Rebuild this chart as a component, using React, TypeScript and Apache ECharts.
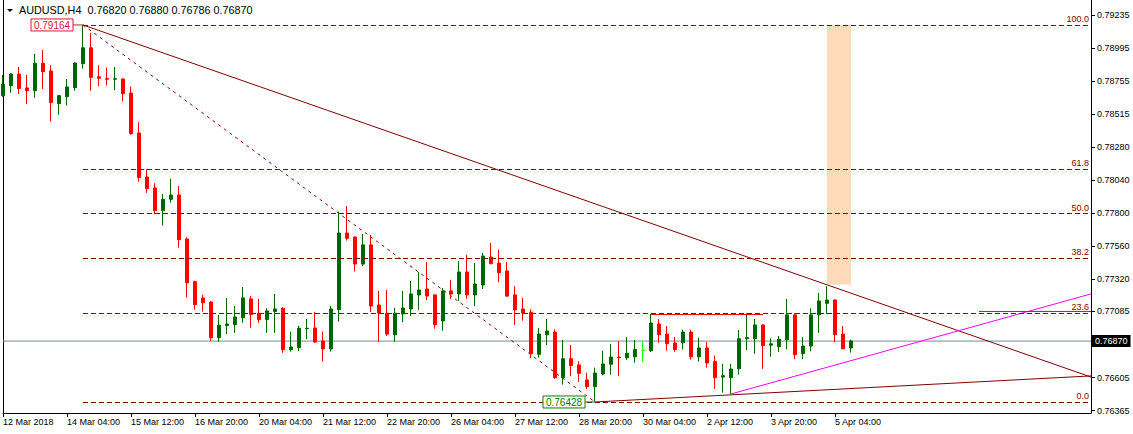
import React, { useEffect, useRef } from "react";
import * as echarts from "echarts";

const FONT = "'Liberation Sans', Arial, sans-serif";

// x-axis tick labels, one every 8 H4 bars
const TICK_LABELS = [
  "12 Mar 2018", "14 Mar 04:00", "15 Mar 12:00", "16 Mar 20:00", "20 Mar 04:00",
  "21 Mar 12:00", "22 Mar 20:00", "26 Mar 04:00", "27 Mar 12:00", "28 Mar 20:00",
  "30 Mar 04:00", "2 Apr 12:00", "3 Apr 20:00", "5 Apr 04:00",
];
// right price-axis labels
const Y_TICKS = [0.79235, 0.78995, 0.78755, 0.78515, 0.7828, 0.7804, 0.778, 0.7756, 0.7732, 0.77085, 0.76605, 0.76365];
const Y_MIN = 0.76348;
const Y_MAX = 0.79345;
const TOTAL_SLOTS = 137; // bars incl. empty space on the right

// H4 candles AUDUSD, 12 Mar 20:00 .. 5 Apr 12:00
const OPENS = [
  0.78651, 0.78724, 0.78808, 0.78707, 0.78687, 0.78886, 0.7883, 0.78593, 0.78643, 0.78709,
  0.78883, 0.78998, 0.78788, 0.78774, 0.7877, 0.78772, 0.7867, 0.7838, 0.78061, 0.77981,
  0.77816, 0.77899, 0.7793, 0.77611, 0.77301, 0.77183, 0.77153, 0.76894, 0.76982, 0.76989,
  0.7704, 0.77176, 0.77071, 0.77026, 0.77084, 0.77108, 0.76808, 0.76822, 0.7696, 0.76965,
  0.7687, 0.76813, 0.77098, 0.77654, 0.77625, 0.77429, 0.77568, 0.77132, 0.77072, 0.76916,
  0.77067, 0.77103, 0.77205, 0.77248, 0.77205, 0.77016, 0.77234, 0.77212, 0.77371, 0.77205,
  0.77277, 0.7748, 0.77436, 0.77379, 0.77205, 0.77103, 0.77079, 0.76774, 0.76916, 0.76935,
  0.76604, 0.76742, 0.76697, 0.76588, 0.76539, 0.76631, 0.76702, 0.76754, 0.76749, 0.76756,
  0.76803, 0.768, 0.76994, 0.76921, 0.76856, 0.76858, 0.76935, 0.76756, 0.7682, 0.76721,
  0.76609, 0.76604, 0.76669, 0.76887, 0.76887, 0.76987, 0.7684, 0.76829, 0.7688, 0.7706,
  0.76778, 0.76834, 0.7706, 0.77144, 0.77168, 0.76921, 0.7682,
];
const CLOSES = [
  0.78734, 0.78808, 0.78702, 0.78687, 0.78886, 0.78825, 0.786, 0.78651, 0.78714, 0.78888,
  0.78998, 0.78784, 0.78777, 0.7877, 0.78774, 0.78665, 0.78375, 0.78056, 0.77976, 0.77816,
  0.77899, 0.7793, 0.77606, 0.77293, 0.77134, 0.77148, 0.76894, 0.76985, 0.76994, 0.77045,
  0.77183, 0.77062, 0.77026, 0.77089, 0.77103, 0.76808, 0.76827, 0.76963, 0.76963, 0.76863,
  0.76813, 0.77103, 0.77654, 0.77616, 0.77429, 0.77568, 0.77124, 0.77074, 0.76921, 0.77072,
  0.7711, 0.77212, 0.77241, 0.77197, 0.76989, 0.77234, 0.77212, 0.77371, 0.77205, 0.77284,
  0.77487, 0.77431, 0.77366, 0.77197, 0.77096, 0.77074, 0.76778, 0.76921, 0.76943, 0.76604,
  0.76742, 0.76692, 0.76636, 0.76539, 0.76638, 0.76704, 0.76754, 0.76749, 0.76781, 0.76808,
  0.76803, 0.77001, 0.76916, 0.76851, 0.76808, 0.76935, 0.76756, 0.7682, 0.76711, 0.76604,
  0.76619, 0.76667, 0.76887, 0.76895, 0.76987, 0.76837, 0.7685, 0.76883, 0.7706, 0.76771,
  0.76834, 0.7706, 0.77161, 0.77168, 0.76916, 0.76814, 0.7687,
];
const LOWS = [
  0.78643, 0.78672, 0.78663, 0.78591, 0.78636, 0.787, 0.78462, 0.78513, 0.78579, 0.78687,
  0.78847, 0.78687, 0.78719, 0.78724, 0.78692, 0.78608, 0.78368, 0.78027, 0.77946, 0.7779,
  0.77708, 0.77874, 0.77548, 0.77185, 0.77098, 0.77084, 0.7687, 0.76865, 0.76921, 0.7693,
  0.77003, 0.76967, 0.77003, 0.7693, 0.7693, 0.76785, 0.76793, 0.76798, 0.76885, 0.76858,
  0.76721, 0.76793, 0.77011, 0.77599, 0.77374, 0.77414, 0.77081, 0.76865, 0.76906, 0.76865,
  0.77008, 0.77052, 0.77096, 0.77168, 0.7696, 0.76945, 0.77176, 0.77161, 0.77176, 0.77124,
  0.77248, 0.77428, 0.77298, 0.7719, 0.76987, 0.77018, 0.76747, 0.7675, 0.7684, 0.76597,
  0.76554, 0.76616, 0.76573, 0.76521, 0.76428, 0.76621, 0.76626, 0.76616, 0.76733, 0.76713,
  0.76721, 0.7679, 0.76858, 0.768, 0.76793, 0.76808, 0.76735, 0.76721, 0.76677, 0.76523,
  0.76496, 0.76486, 0.76626, 0.76805, 0.76778, 0.76669, 0.76756, 0.7679, 0.7681, 0.76738,
  0.76738, 0.76796, 0.7693, 0.77067, 0.76861, 0.76812, 0.76786,
];
const HIGHS = [
  0.78801, 0.78813, 0.78859, 0.78801, 0.78954, 0.78983, 0.78872, 0.78656, 0.78772, 0.78893,
  0.79164, 0.79104, 0.78872, 0.78854, 0.78859, 0.78775, 0.78716, 0.78459, 0.78117, 0.78015,
  0.77937, 0.78047, 0.77995, 0.77623, 0.77308, 0.77205, 0.7716, 0.7706, 0.77183, 0.77124,
  0.77262, 0.77197, 0.77176, 0.77108, 0.77212, 0.77117, 0.76938, 0.76979, 0.77031, 0.77081,
  0.76938, 0.77124, 0.77809, 0.7785, 0.77628, 0.77647, 0.7764, 0.77234, 0.77241, 0.7711,
  0.77234, 0.77306, 0.77371, 0.77443, 0.77208, 0.77255, 0.77313, 0.77451, 0.77495, 0.77436,
  0.77509, 0.77582, 0.77533, 0.77443, 0.77269, 0.77183, 0.77101, 0.76965, 0.77031, 0.76955,
  0.76878, 0.76842, 0.76724, 0.7664, 0.76677, 0.768, 0.76849, 0.7687, 0.76898, 0.76878,
  0.76868, 0.77067, 0.77031, 0.76979, 0.769, 0.76952, 0.76952, 0.76895, 0.76863, 0.76764,
  0.76704, 0.76704, 0.7695, 0.77072, 0.77031, 0.7699, 0.7689, 0.76907, 0.77176, 0.77072,
  0.76898, 0.77108, 0.77219, 0.77269, 0.77172, 0.76979, 0.7688,
];
const LIME_DOJI_INDEX = 80;

// Fibonacci retracement (high bar 10 -> low bar 74)
const FIB_HIGH_IDX = 10;
const FIB_HIGH = 0.79164;
const FIB_LOW_IDX = 74;
const FIB_LOW = 0.76428;
const FIB_LEVELS = [0, 23.6, 38.2, 50, 61.8, 100];

// drawn objects: [startIdx, startPrice, endIdx, endPrice]
const TREND_DOWN = [10, 0.79164, 136, 0.76609];
const TREND_UP = [74, 0.76428, 136, 0.76617];
const MAGENTA_LINE = [91, 0.76486, 136, 0.77212];
const RED_SEGMENTS = [
  [81, 0.77063, 95, 0.77063],
  [122, 0.77085, 136, 0.77085],
];
const PEACH_BOX = [103, 0.79164, 106, 0.7728];
const LAST_PRICE = 0.7687;
const TITLE = "AUDUSD,H4  0.76820 0.76880 0.76786 0.76870";

const MONTHS = ["Jan", "Feb", "Mar", "Apr", "May", "Jun", "Jul", "Aug", "Sep", "Oct", "Nov", "Dec"];

function buildCategories(n: number): string[] {
  const out: string[] = [];
  let t = Date.UTC(2018, 2, 12, 20);
  while (out.length < n) {
    const d = new Date(t);
    const wd = d.getUTCDay();
    if (wd !== 0 && wd !== 6) {
      const hh = String(d.getUTCHours()).padStart(2, "0");
      out.push(`${d.getUTCDate()} ${MONTHS[d.getUTCMonth()]} ${hh}:00`);
    }
    t += 4 * 3600 * 1000;
  }
  return out;
}

const tickShown = (index: number) => index % 8 === 0 && index / 8 < TICK_LABELS.length;

function segSeries(seg: number[], color: string, z: number, type: any = "solid") {
  return {
    type: "line",
    data: [
      [seg[0], seg[1]],
      [seg[2], seg[3]],
    ],
    symbol: "none",
    silent: true,
    z,
    lineStyle: { color, width: 1, type },
  };
}

function priceTag(idx: number, price: number, color: string) {
  return {
    type: "custom",
    z: 6,
    silent: true,
    clip: false,
    data: [[idx, price]],
    renderItem: (params: any, api: any) => {
      const p = api.coord([api.value(0), api.value(1)]);
      const boxW = 42;
      const boxH = 12;
      const gap = 10;
      const x1 = p[0] - gap;
      return {
        type: "group",
        children: [
          { type: "line", shape: { x1, y1: p[1], x2: p[0], y2: p[1] }, style: { stroke: color, lineWidth: 1 } },
          {
            type: "rect",
            shape: { x: x1 - boxW, y: p[1] - boxH / 2, width: boxW, height: boxH },
            style: { fill: "#ffffff", stroke: color, lineWidth: 1 },
          },
          {
            type: "text",
            style: {
              text: Number(api.value(1)).toFixed(5),
              x: x1 - boxW / 2,
              y: p[1] + 0.5,
              align: "center",
              verticalAlign: "middle",
              fill: color,
              font: `10px ${FONT}`,
            },
          },
        ],
      };
    },
  };
}

export default function App() {
  const ref = useRef<HTMLDivElement>(null);

  useEffect(() => {
    if (!ref.current) return;
    const chart = echarts.init(ref.current, null, { renderer: "svg" });
    const categories = buildCategories(TOTAL_SLOTS);
    const lastIdx = TOTAL_SLOTS - 1;

    const candleData = OPENS.map((o, i) => {
      const v = [o, CLOSES[i], LOWS[i], HIGHS[i]];
      if (i === LIME_DOJI_INDEX) {
        return {
          value: v,
          itemStyle: {
            color: "#00ff00",
            color0: "#00ff00",
            borderColor: "#00ff00",
            borderColor0: "#00ff00",
            borderColorDoji: "#00ff00",
          },
        };
      }
      return v;
    });

    const fibMarks = FIB_LEVELS.map((lv) => {
      const price = FIB_LOW + ((FIB_HIGH - FIB_LOW) * lv) / 100;
      return [
        {
          coord: [FIB_HIGH_IDX, price],
          label: {
            show: true,
            position: "insideEndTop",
            formatter: lv.toFixed(1),
            color: "#8b0000",
            fontSize: 9,
            fontFamily: FONT,
            distance: [2, 1],
          },
        },
        { coord: [lastIdx, price] },
      ];
    });

    const option: any = {
      animation: false,
      backgroundColor: "#ffffff",
      textStyle: { fontFamily: FONT },
      grid: { left: 3, right: 42, top: 0, bottom: 21 },
      graphic: [
        {
          type: "polygon",
          shape: { points: [[7, 9], [13, 9], [10, 12]] },
          style: { fill: "#000" },
          silent: true,
        },
        {
          type: "text",
          left: 19,
          top: 4,
          style: { text: TITLE, fill: "#000", font: `10.8px ${FONT}` },
          silent: true,
        },
      ],
      xAxis: {
        type: "category",
        data: categories,
        boundaryGap: false,
        axisLine: { show: true, lineStyle: { color: "#000", width: 1 } },
        axisTick: { show: true, interval: tickShown, length: 4, lineStyle: { color: "#000" } },
        axisLabel: {
          interval: tickShown,
          formatter: (_v: string, i: number) => (tickShown(i) ? TICK_LABELS[i / 8] : ""),
          align: "left",
          margin: 4,
          color: "#000",
          fontSize: 9,
          fontFamily: FONT,
        },
        splitLine: { show: false },
      },
      yAxis: [
        {
          type: "value",
          position: "right",
          min: Y_MIN,
          max: Y_MAX,
          axisLine: { show: true, lineStyle: { color: "#000", width: 1 } },
          axisTick: { show: true, length: 4, customValues: Y_TICKS, lineStyle: { color: "#000" } },
          axisLabel: {
            customValues: Y_TICKS,
            formatter: (v: number) => v.toFixed(5),
            color: "#000",
            fontSize: 9,
            fontFamily: FONT,
            margin: 6,
          },
          splitLine: { show: false },
        },
        {
          type: "value",
          position: "left",
          min: Y_MIN,
          max: Y_MAX,
          axisLine: { show: true, lineStyle: { color: "#000", width: 1 } },
          axisTick: { show: false },
          axisLabel: { show: false },
          splitLine: { show: false },
        },
      ],
      series: [
        {
          type: "line",
          data: [
            [0, LAST_PRICE],
            [lastIdx, LAST_PRICE],
          ],
          symbol: "none",
          silent: true,
          z: 1,
          lineStyle: { color: "#778899", width: 1 },
          endLabel: {
            show: true,
            formatter: LAST_PRICE.toFixed(5),
            backgroundColor: "#000",
            color: "#fff",
            fontSize: 9,
            fontFamily: FONT,
            padding: [2, 3, 1, 3],
            distance: 1,
          },
          markArea: {
            silent: true,
            itemStyle: { color: "#ffdab9" },
            data: [
              [
                { xAxis: PEACH_BOX[0], yAxis: PEACH_BOX[1] },
                { xAxis: PEACH_BOX[2], yAxis: PEACH_BOX[3] },
              ],
            ],
          },
        },
        {
          type: "line",
          data: [
            [FIB_HIGH_IDX, FIB_HIGH],
            [FIB_LOW_IDX, FIB_LOW],
          ],
          symbol: "none",
          silent: true,
          z: 2,
          lineStyle: { color: "#8b0000", width: 1, type: [3, 4] },
          markLine: {
            silent: true,
            symbol: ["none", "none"],
            lineStyle: { color: "#8b0000", width: 1, type: [5, 3] },
            data: fibMarks,
          },
        },
        {
          type: "candlestick",
          z: 3,
          barWidth: 4,
          data: candleData,
          itemStyle: {
            color: "#006400",
            color0: "#ff0000",
            borderColor: "#006400",
            borderColor0: "#ff0000",
            borderWidth: 1,
          },
        },
        segSeries(TREND_DOWN, "#800000", 4),
        segSeries(TREND_UP, "#800000", 4),
        segSeries(MAGENTA_LINE, "#ff00ff", 4),
        ...RED_SEGMENTS.map((s) => segSeries(s, "#ff0000", 5)),
        priceTag(FIB_HIGH_IDX, FIB_HIGH, "#dc143c"),
        priceTag(FIB_LOW_IDX, FIB_LOW, "#008000"),
      ],
    };

    chart.setOption(option);
    return () => chart.dispose();
  }, []);

  return (
    <div
      ref={ref}
      style={{ position: "fixed", left: 0, top: 0, width: 1133, height: 434, background: "#fff" }}
    />
  );
}
